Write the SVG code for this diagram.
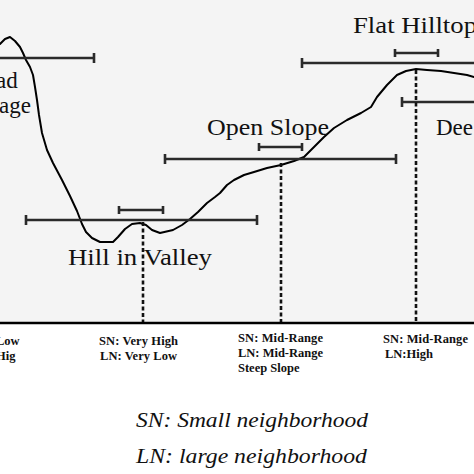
<svg xmlns="http://www.w3.org/2000/svg" width="474" height="474" viewBox="0 0 474 474">
<style>
.bar{fill:none;stroke:#2a2a2a;stroke-width:2.6}
.dash{fill:none;stroke:#111;stroke-width:2.6;stroke-dasharray:4 2.5}
.curve{fill:none;stroke:#000;stroke-width:2;stroke-linejoin:round;stroke-linecap:round}
.lbl{font-family:"Liberation Serif",serif;font-size:23px;fill:#111}
.sm{font-family:"Liberation Serif",serif;font-size:12.5px;font-weight:bold;fill:#111}
.leg{font-family:"Liberation Serif",serif;font-size:21px;font-style:italic;fill:#111}
</style>
<rect x="0" y="0" width="474" height="323" fill="#f4f4f4"/>
<rect x="0" y="323" width="474" height="151" fill="#fff"/>
<g id="terrain">
<path class="curve" d="M0,44 L5,39 L10,37 L15,41 L20,47 L23,53 L26,60 L30,67 L33,75 L35,87 L37,100 L39,115 L42,133 L47,150 L53,163 L62,180 L70,196 L77,211 L82,224 L86,232 L92,238 L100,242 L113,242 L118,237 L125,229 L132,224 L140,223 L146,225 L152,230 L160,233 L173,230 L182,225 L190,219 L198,212 L207,203 L215,197 L220,193 L227,185 L234,180 L244,175 L254,172 L267,168 L281,165 L294,161 L304,157 L314,147 L324,137 L334,128 L347,120 L361,113 L371,107 L377,97 L387,85 L397,75 L406,71 L416,69 L427,70 L441,71 L454,73 L467,75 L474,77"/>
</g>
<g id="connectors">
<path class="bar" d="M0,58 H94 M94,53 V63"/>
<path class="bar" d="M26,220 H257 M26,215 V225 M257,215 V225"/>
<path class="bar" d="M119,210 H163 M119,206 V214 M163,206 V214"/>
<path class="bar" d="M165,159 H396 M165,154 V164 M396,154 V164"/>
<path class="bar" d="M259,147 H302 M259,143 V151 M302,143 V151"/>
<path class="bar" d="M302,63 H474 M302,58 V68"/>
<path class="bar" d="M395,53 H438 M395,49 V57 M438,49 V57"/>
<path class="bar" d="M402,102 H474 M402,97 V107"/>
<path class="dash" d="M143,222 V322"/>
<path class="dash" d="M281,163 V322"/>
<path class="dash" d="M416,70 V322"/>
<path d="M0,323 H474" stroke="#000" stroke-width="2.5"/>
</g>
<g id="broad-range">
<text class="lbl" x="-4" y="88">ad</text>
<text class="lbl" x="-1" y="113">age</text>
<text class="sm" x="-4" y="345">Low</text>
<text class="sm" x="-4" y="360">Hig</text>
</g>
<g id="hill-in-valley">
<text class="lbl" x="68" y="265" textLength="144" lengthAdjust="spacingAndGlyphs">Hill in Valley</text>
<text class="sm" x="99" y="345" textLength="79">SN: Very High</text>
<text class="sm" x="100" y="360" textLength="77">LN: Very Low</text>
</g>
<g id="open-slope">
<text class="lbl" x="207" y="135" textLength="122" lengthAdjust="spacingAndGlyphs">Open Slope</text>
<text class="sm" x="238" y="342" textLength="85">SN: Mid-Range</text>
<text class="sm" x="238" y="357" textLength="85">LN: Mid-Range</text>
<text class="sm" x="238" y="372">Steep Slope</text>
</g>
<g id="flat-hilltop">
<text class="lbl" x="353" y="33" textLength="124" lengthAdjust="spacingAndGlyphs">Flat Hilltop</text>
<text class="sm" x="383" y="343" textLength="85">SN: Mid-Range</text>
<text class="sm" x="385" y="358">LN:High</text>
</g>
<g id="deep">
<text class="lbl" x="436" y="135">Dee</text>
</g>
<g id="legend">
<text class="leg" x="136" y="427" textLength="232" lengthAdjust="spacingAndGlyphs">SN: Small neighborhood</text>
<text class="leg" x="136" y="463" textLength="231" lengthAdjust="spacingAndGlyphs">LN: large neighborhood</text>
</g>
</svg>
